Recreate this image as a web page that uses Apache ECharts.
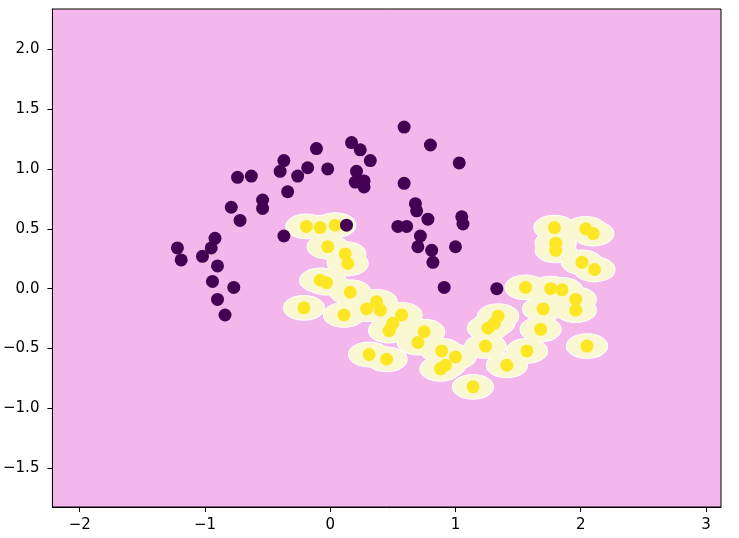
<!DOCTYPE html>
<html>
<head>
<meta charset="utf-8">
<script src="https://cdn.jsdelivr.net/npm/echarts@6/dist/echarts.min.js"></script>
<style>
  html, body { margin: 0; padding: 0; background: #fff; }
  #chart { width: 739px; height: 538px; }
</style>
</head>
<body>
<div id="chart"></div>
<script>
// class 0 (dark purple)
var purplePts = [
  [0.59, 1.35], [-0.11, 1.17], [0.17, 1.22], [0.24, 1.16], [0.32, 1.07],
  [0.80, 1.20], [1.03, 1.05], [-0.18, 1.01], [-0.02, 1.00], [0.21, 0.98],
  [0.20, 0.89], [0.27, 0.90], [0.27, 0.85], [0.59, 0.88], [0.68, 0.71],
  [0.69, 0.65], [0.78, 0.58], [1.05, 0.60], [1.06, 0.54], [0.54, 0.52],
  [0.61, 0.52], [0.13, 0.53], [0.72, 0.44], [0.70, 0.35], [0.81, 0.32],
  [0.82, 0.22], [1.00, 0.35], [0.91, 0.01], [1.33, 0.00], [-0.37, 1.07],
  [-0.40, 0.98], [-0.26, 0.94], [-0.74, 0.93], [-0.63, 0.94], [-0.34, 0.81],
  [-0.54, 0.74], [-0.54, 0.67], [-0.79, 0.68], [-0.72, 0.57], [-0.37, 0.44],
  [-0.92, 0.42], [-1.22, 0.34], [-1.19, 0.24], [-0.95, 0.34], [-1.02, 0.27],
  [-0.90, 0.19], [-0.94, 0.06], [-0.77, 0.01], [-0.90, -0.09], [-0.84, -0.22]
];
// class 1 (yellow)
var yellowPts = [
  [-0.19, 0.52], [-0.08, 0.51], [0.04, 0.53], [-0.02, 0.35], [0.12, 0.29],
  [0.14, 0.21], [-0.08, 0.07], [-0.03, 0.05], [0.16, -0.03], [-0.21, -0.16],
  [0.11, -0.22], [0.29, -0.17], [0.37, -0.11], [0.40, -0.18], [0.57, -0.22],
  [0.50, -0.29], [0.47, -0.35], [0.75, -0.36], [0.70, -0.45], [0.89, -0.52],
  [1.00, -0.57], [0.92, -0.64], [0.88, -0.67], [0.31, -0.55], [0.45, -0.59],
  [1.14, -0.82], [1.34, -0.23], [1.31, -0.29], [1.26, -0.33], [1.24, -0.48],
  [1.41, -0.64], [1.79, 0.51], [2.04, 0.50], [2.10, 0.46], [1.80, 0.38],
  [1.80, 0.32], [2.01, 0.22], [2.11, 0.16], [1.56, 0.01], [1.76, 0.00],
  [1.85, -0.01], [1.96, -0.09], [1.96, -0.18], [1.70, -0.17], [1.68, -0.34],
  [1.57, -0.52], [2.05, -0.48]
];
var xTicks = [-2, -1, 0, 1, 2, 3];
var yTicks = [-1.5, -1.0, -0.5, 0.0, 0.5, 1.0, 1.5, 2.0];
var xRange = [-2.218, 3.12];
var yRange = [-1.824, 2.336];

var paleColor = '#f9f8d3';
var ellipse = 'path://M0,50A50,50,0,1,1,100,50A50,50,0,1,1,0,50Z';

function minus(s) { return String(s).replace('-', '\u2212'); }

var myChart = echarts.init(document.getElementById('chart'), null, { renderer: 'canvas' });
myChart.setOption({
  animation: false,
  backgroundColor: '#ffffff',
  grid: {
    left: 51, right: 18, top: 9, bottom: 31,
    show: true,
    backgroundColor: '#f4b7ec',
    borderColor: '#000',
    borderWidth: 1
  },
  xAxis: {
    type: 'value',
    min: xRange[0],
    max: xRange[1],
    splitLine: { show: false },
    axisLine: { show: true, onZero: false, lineStyle: { color: '#000', width: 1 } },
    axisTick: { show: true, customValues: xTicks, length: 5, lineStyle: { color: '#000' } },
    axisLabel: {
      customValues: xTicks,
      margin: 11,
      color: '#000',
      fontFamily: 'DejaVu Sans',
      fontSize: 15,
      formatter: function (v) { return minus(v); }
    }
  },
  yAxis: {
    type: 'value',
    min: yRange[0],
    max: yRange[1],
    splitLine: { show: false },
    axisLine: { show: true, onZero: false, lineStyle: { color: '#000', width: 1 } },
    axisTick: { show: true, customValues: yTicks, length: 5, lineStyle: { color: '#000' } },
    axisLabel: {
      customValues: yTicks,
      margin: 13,
      color: '#000',
      fontFamily: 'DejaVu Sans',
      fontSize: 15,
      formatter: function (v) { return minus(v.toFixed(1)); }
    }
  },
  series: [
    // decision region around class 1: white rim layer, pale fill layer above it
    {
      type: 'scatter', data: yellowPts, symbol: ellipse, symbolSize: [41, 25],
      itemStyle: { color: '#ffffff', opacity: 1, borderColor: '#ffffff', borderWidth: 1 },
      emphasis: { disabled: true }, silent: true, zlevel: 1
    },
    {
      type: 'scatter', data: yellowPts, symbol: ellipse, symbolSize: [39, 23],
      itemStyle: { color: paleColor, opacity: 1, borderColor: paleColor, borderWidth: 1 },
      emphasis: { disabled: true }, silent: true, zlevel: 2
    },
    {
      type: 'scatter', data: yellowPts, symbol: 'circle', symbolSize: 13,
      itemStyle: { color: '#fde725', opacity: 1 },
      emphasis: { disabled: true }, silent: true, zlevel: 3
    },
    {
      type: 'scatter', data: purplePts, symbol: 'circle', symbolSize: 13,
      itemStyle: { color: '#440154', opacity: 1 },
      emphasis: { disabled: true }, silent: true, zlevel: 3, z: 3
    }
  ]
});
</script>
</body>
</html>
